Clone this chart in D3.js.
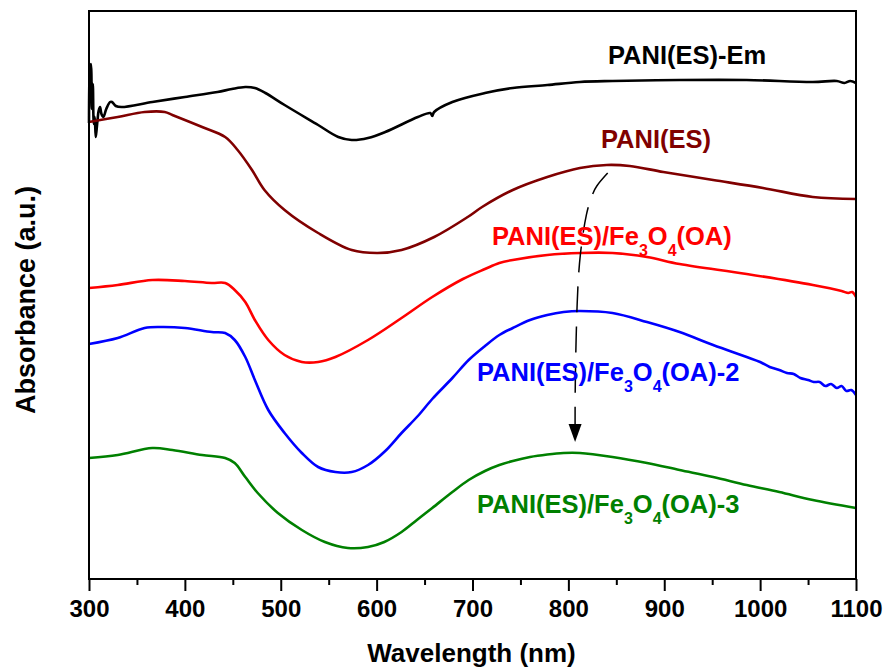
<!DOCTYPE html>
<html>
<head>
<meta charset="utf-8">
<script src="https://cdn.jsdelivr.net/npm/d3@7"></script>
<style>
  body { margin: 0; background: #fff; }
  svg { font-family: "Liberation Sans", Arial, sans-serif; font-weight: bold; }
</style>
</head>
<body>
<svg id="chart" width="888" height="671"></svg>
<script>
// wavelength (nm) and absorbance (a.u., offset curves)
var emWl  = [300,301,302,303,304,305,306,307,308,309,310,311.5,313,315,318,322,324,328,334,366,400,434,449,463,473,484,504,539,560,574,591,609,643,656,658,660,679,713,742,778,812,846,916,986,1055,1080,1088,1094,1100];
var emAbs = [4.56,5.10,5.15,4.70,4.95,4.55,4.62,4.42,4.50,4.60,4.68,4.72,4.65,4.62,4.70,4.77,4.77,4.73,4.72,4.77,4.82,4.87,4.90,4.92,4.91,4.86,4.74,4.54,4.42,4.39,4.41,4.47,4.62,4.66,4.63,4.67,4.77,4.86,4.91,4.94,4.97,4.98,4.99,4.99,4.97,4.98,4.96,4.98,4.96];

var esWl  = [300,330,358,379,387,418,442,455,470,483,504,539,574,601,626,660,695,710,742,778,812,840,864,899,951,1003,1055,1100];
var esAbs = [4.57,4.62,4.67,4.67,4.64,4.52,4.42,4.29,4.09,3.89,3.69,3.46,3.29,3.26,3.29,3.42,3.62,3.72,3.89,4.02,4.11,4.14,4.13,4.07,3.99,3.91,3.82,3.80];

var oaWl  = [300,330,366,400,428,442,452,463,473,487,504,522,539,557,591,626,658,690,713,728,742,778,812,846,882,916,986,1055,1085,1092,1096,1100];
var oaAbs = [2.91,2.94,2.99,2.98,2.96,2.96,2.89,2.77,2.59,2.39,2.24,2.17,2.17,2.22,2.39,2.61,2.82,3.00,3.10,3.16,3.19,3.24,3.26,3.26,3.22,3.15,3.05,2.94,2.88,2.86,2.87,2.82];

var oa2Wl  = [300,330,358,376,400,428,442,452,463,473,487,504,522,539,557,574,591,609,626,643,658,679,696,713,728,742,760,778,795,812,846,882,916,951,986,1000,1010,1020,1028,1035,1042,1050,1056,1062,1068,1074,1080,1085,1090,1095,1100];
var oa2Abs = [2.35,2.41,2.51,2.52,2.51,2.47,2.46,2.39,2.22,1.99,1.69,1.46,1.26,1.12,1.07,1.07,1.14,1.28,1.46,1.63,1.80,2.01,2.19,2.33,2.44,2.51,2.59,2.64,2.67,2.68,2.66,2.57,2.47,2.34,2.22,2.17,2.12,2.09,2.06,2.05,2.01,1.99,1.97,1.97,1.93,1.95,1.91,1.93,1.88,1.89,1.84];

var oa3Wl  = [300,330,366,387,418,442,452,463,476,497,522,546,570,591,608,626,642,658,679,696,713,728,742,760,778,795,812,846,882,916,951,986,1020,1055,1100];
var oa3Abs = [1.21,1.24,1.31,1.29,1.24,1.21,1.16,1.02,0.86,0.66,0.49,0.37,0.31,0.32,0.37,0.47,0.59,0.71,0.87,0.99,1.08,1.14,1.18,1.22,1.245,1.26,1.26,1.22,1.16,1.09,1.02,0.94,0.87,0.79,0.71];

var xTicks = [300,400,500,600,700,800,900,1000,1100];
var xMinor = [350,450,550,650,750,850,950,1050];

// dashed arrow: red-shift of the polaron band
var arrowWl  = [841, 828, 825, 819, 812, 809, 807, 807];
var arrowAbs = [4.06, 3.92, 3.84, 3.69, 3.26, 2.82, 1.96, 1.54];

var series = [
  {wl: emWl,  abs: emAbs,  color: "#000000"},
  {wl: esWl,  abs: esAbs,  color: "#800000"},
  {wl: oaWl,  abs: oaAbs,  color: "#ff0000"},
  {wl: oa2Wl, abs: oa2Abs, color: "#0000ff"},
  {wl: oa3Wl, abs: oa3Abs, color: "#008000"}
];

var svg = d3.select("#chart");
var mLeft = 89, mRight = 856, mTop = 11, mBottom = 579;

var x = d3.scaleLinear().domain([300, 1100]).range([mLeft, mRight]);
var y = d3.scaleLinear().domain([0, 5.68]).range([mBottom, mTop]);

var line = d3.line()
  .x(function(d) { return x(d[0]); })
  .y(function(d) { return y(d[1]); })
  .curve(d3.curveCatmullRom.alpha(0.5));

var plot = svg.append("g");

series.forEach(function(s) {
  var pts = s.wl.map(function(w, i) { return [w, s.abs[i]]; });
  plot.append("path")
    .datum(pts)
    .attr("fill", "none")
    .attr("stroke", s.color)
    .attr("stroke-width", 2.6)
    .attr("stroke-linejoin", "round")
    .attr("d", line);
});

// arrow
var arrowPts = arrowWl.map(function(w, i) { return [w, arrowAbs[i]]; });
var arrowLine = d3.line()
  .x(function(d) { return x(d[0]); })
  .y(function(d) { return y(d[1]); })
  .curve(d3.curveBasis);
plot.append("path")
  .datum(arrowPts)
  .attr("fill", "none")
  .attr("stroke", "#000")
  .attr("stroke-width", 1.5)
  .attr("stroke-dasharray", "26,14")
  .attr("d", arrowLine);
var tipX = x(arrowWl[arrowWl.length - 1]), tipY = y(arrowAbs[arrowAbs.length - 1]) + 17;
plot.append("path")
  .attr("d", "M" + (tipX - 6.5) + "," + (tipY - 18) + "L" + (tipX + 6.5) + "," + (tipY - 18) + "L" + tipX + "," + tipY + "Z")
  .attr("fill", "#000");

// frame
svg.append("rect")
  .attr("x", mLeft).attr("y", mTop)
  .attr("width", mRight - mLeft).attr("height", mBottom - mTop)
  .attr("fill", "none").attr("stroke", "#000").attr("stroke-width", 2);

// x axis
var xAxis = svg.append("g")
  .attr("transform", "translate(0," + mBottom + ")")
  .call(d3.axisBottom(x).tickValues(xTicks).tickSize(12).tickPadding(9).tickFormat(d3.format("d")));
xAxis.select(".domain").remove();
xAxis.selectAll("line").attr("stroke-width", 2);
xAxis.selectAll("text")
  .attr("font-family", "Liberation Sans, Arial, sans-serif")
  .attr("font-weight", "bold")
  .attr("font-size", 24)
  .attr("fill", "#000");

var xMinorAxis = svg.append("g")
  .attr("transform", "translate(0," + mBottom + ")")
  .call(d3.axisBottom(x).tickValues(xMinor).tickSize(6).tickFormat(""));
xMinorAxis.select(".domain").remove();
xMinorAxis.selectAll("line").attr("stroke-width", 2);

// axis titles
svg.append("text")
  .attr("x", (mLeft + mRight) / 2 - 1).attr("y", 662)
  .attr("text-anchor", "middle")
  .attr("font-size", 26)
  .text("Wavelength (nm)");

svg.append("text")
  .attr("transform", "translate(35,300) rotate(-90)")
  .attr("text-anchor", "middle")
  .attr("font-size", 27)
  .text("Absorbance (a.u.)");

// curve labels
function label(parts, xPos, yPos, color) {
  var t = svg.append("text")
    .attr("x", xPos).attr("y", yPos)
    .attr("font-size", 25.5)
    .attr("fill", color);
  var shift = 0;
  parts.forEach(function(p) {
    if (p.sub) {
      t.append("tspan").attr("font-size", 16).attr("dy", 11 - shift).text(p.sub);
      shift = 11;
    } else {
      t.append("tspan").attr("dy", -shift).text(p.txt);
      shift = 0;
    }
  });
}

label([{txt: "PANI(ES)-Em"}], 608, 64, "#000000");
label([{txt: "PANI(ES)"}], 601, 148, "#800000");
label([{txt: "PANI(ES)/Fe"}, {sub: "3"}, {txt: "O"}, {sub: "4"}, {txt: "(OA)"}], 492, 245, "#ff0000");
label([{txt: "PANI(ES)/Fe"}, {sub: "3"}, {txt: "O"}, {sub: "4"}, {txt: "(OA)-2"}], 477, 381, "#0000ff");
label([{txt: "PANI(ES)/Fe"}, {sub: "3"}, {txt: "O"}, {sub: "4"}, {txt: "(OA)-3"}], 477, 513, "#008000");
</script>
</body>
</html>
